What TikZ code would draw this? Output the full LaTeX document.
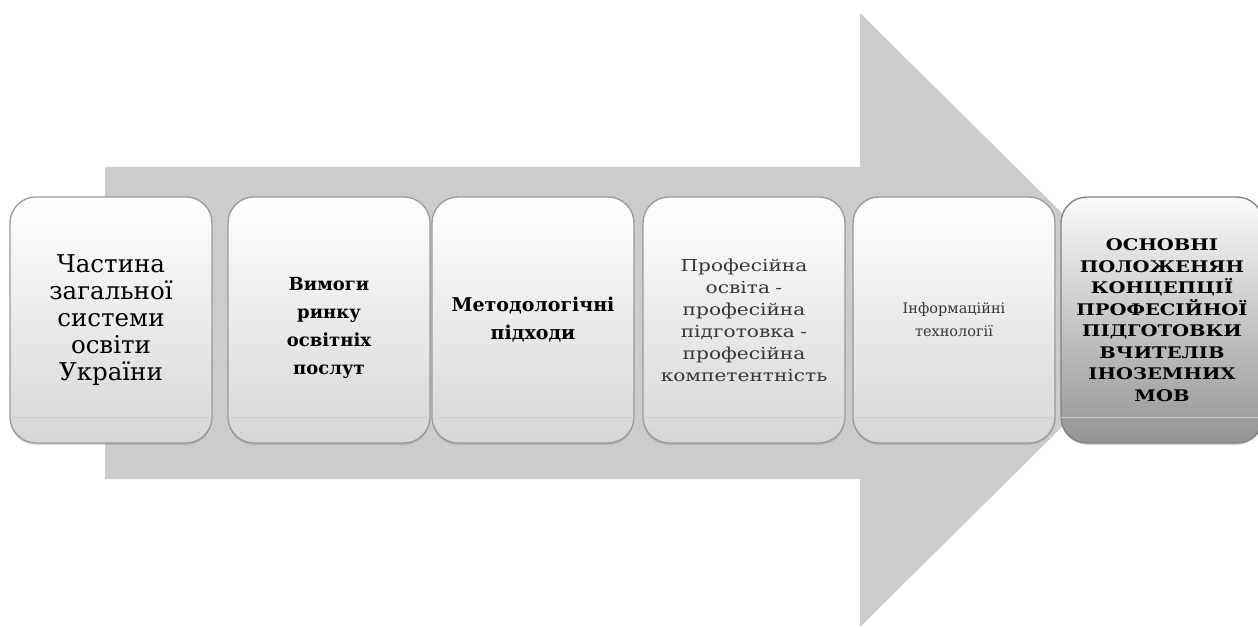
\documentclass[tikz,border=0pt]{standalone}
\usepackage{fontspec}
\setmainfont{DejaVu Serif}
\newfontfamily\widefont[FakeStretch=1.22]{DejaVu Serif}
\usetikzlibrary{shadows}
\definecolor{arrowgray}{RGB}{204,204,204}
\definecolor{txtgray}{RGB}{55,55,55}
\tikzset{
  stagebox/.style={minimum width=201pt, minimum height=246pt, rounded corners=26pt,
    top color=white, bottom color=black!16, draw=black!40, line width=1.3pt,
    align=center, inner sep=4pt, text width=194pt,
    drop shadow={opacity=0.3, shadow xshift=0pt, shadow yshift=-2pt}},
  goalbox/.style={stagebox, top color=black!2, bottom color=black!42, draw=black!50},
  band/.style={draw=black!20, line width=0.6pt},
  boxtext/.style={align=center, text width=194pt, inner sep=0pt},
}
\begin{document}
\begin{tikzpicture}[x=1pt,y=-1pt]
\useasboundingbox (0,0) rectangle (1258,628);
% big arrow
\fill[arrowgray] (105,167) -- (860,167) -- (860,13) -- (1170,320) -- (860,627) -- (860,479) -- (105,479) -- cycle;
% boxes
\node[stagebox, font=\fontsize{24.5}{27}\selectfont] (b1) at (111,320) {Частина\\загальної\\системи\\освіти\\України};
\node[stagebox] (b2) at (329,320) {};
\node[boxtext, font=\fontsize{18}{28}\selectfont\bfseries] (b2t) at ([yshift=-8pt]b2.center) {Вимоги\\ринку\\освітніх\\послут};
\node[stagebox, font=\fontsize{19}{28}\selectfont\bfseries] (b3) at (533,320) {Методологічні\\підходи};
\node[stagebox, font=\widefont\fontsize{16.5}{22}\selectfont, text=txtgray] (b4) at (744,320) {Професійна\\освіта -\\професійна\\підготовка -\\професійна\\компетентність};
\node[stagebox, font=\fontsize{14.5}{23}\selectfont, text=txtgray] (b5) at (954,320) {Інформаційні\\технології};
\node[goalbox, minimum width=192pt, font=\widefont\fontsize{16}{21.5}\selectfont\bfseries] (b6) at (1162,320) {ОСНОВНІ\\ПОЛОЖЕНЯН\\КОНЦЕПЦІЇ\\ПРОФЕСІЙНОЇ\\ПІДГОТОВКИ\\ВЧИТЕЛІВ\\ІНОЗЕМНИХ\\МОВ};
% glossy band lines
\foreach \b in {b1,b2,b3,b4,b5,b6}{
  \draw[band] ([xshift=1pt,yshift=26pt]\b.south west) -- ([xshift=-1pt,yshift=26pt]\b.south east);
}
\end{tikzpicture}
\end{document}
